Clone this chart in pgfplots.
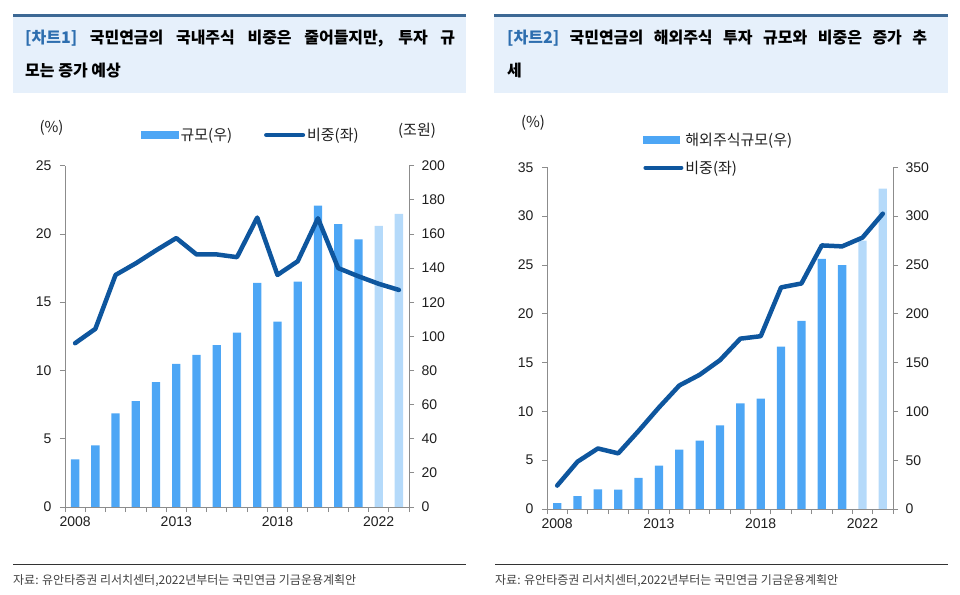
\documentclass[border=0pt]{standalone}
\usepackage{pgfplots}
\pgfplotsset{compat=1.18}
\usepackage{pgfplotstable}
\usepackage{fontspec}
\setmainfont{Noto Sans CJK KR}
\newfontfamily\kr{Noto Sans CJK KR}
\newfontfamily\arial{Liberation Sans}
\definecolor{barblue}{RGB}{77,166,245}
\definecolor{barlight}{RGB}{181,218,250}
\definecolor{linecol}{RGB}{14,86,158}
\definecolor{boxfill}{RGB}{230,240,251}
\definecolor{rulecol}{RGB}{60,104,148}
\definecolor{tagcol}{RGB}{45,110,175}
\definecolor{axgray}{RGB}{140,140,140}
\definecolor{txt}{RGB}{30,30,30}

% chart 1: domestic equity
\pgfplotstableread{
x size share
0 27.9 12.0
1 36.1 13.05
2 54.8 17.0
3 62.0 17.85
4 73.2 18.8
5 83.9 19.7
6 89.2 18.5
7 94.8 18.5
8 102.2 18.3
9 131.3 21.2
10 108.7 17.0
11 132.1 18.0
12 176.6 21.15
13 165.7 17.5
14 156.9 16.9
15 164.7 16.35
16 171.7 15.9
}\domtab
% chart 2: overseas equity
\pgfplotstableread{
x size share
0 6.1 2.4
1 13.3 4.85
2 20.1 6.2
3 19.8 5.7
4 31.8 8.0
5 44.4 10.4
6 60.8 12.65
7 70.0 13.75
8 85.7 15.25
9 108.2 17.45
10 113.0 17.7
11 166.3 22.7
12 192.6 23.1
13 256.1 27.0
14 249.9 26.9
15 275.0 27.8
16 328.1 30.25
}\fortab

\pgfplotsset{
  base/.style={
    scale only axis,
    xmin=-0.5, xmax=16.5,
    axis line style={axgray, line width=1pt},
    tick style={axgray, line width=0.8pt},
    tick align=outside,
    major tick length=5pt,
    ticklabel style={font=\arial\fontsize{14}{16}\selectfont, text=txt},
    /pgf/number format/assume math mode=true,
    clip=false,
  },
  baraxis/.style={base, axis x line=none, axis y line*=right, ymin=0,
    yticklabel style={xshift=4pt}},
  lineaxis/.style={base, axis x line*=bottom, axis y line*=left, ymin=0,
    yticklabel style={xshift=-5pt},
    xtick={-0.5,0.5,...,16.5}, xticklabels={},
    extra x ticks={0,5,10,15}, extra x tick labels={2008,2013,2018,2022},
    extra x tick style={major tick length=0pt, xticklabel style={yshift=-6pt}},
    legend cell align=left,
    legend style={draw=none, fill=none, inner sep=0pt,
      font=\kr\fontsize{15}{17}\selectfont, text=txt},
  },
  barstyle/.style={ybar, bar width=8.3pt, bar shift=0pt, draw=none},
}

\begin{document}
\begin{tikzpicture}
\path[use as bounding box] (0,0) rectangle (960pt,-594pt);

% ---------- header boxes ----------
\fill[boxfill] (13pt,-16pt) rectangle (466pt,-93pt);
\draw[rulecol, line width=2.5pt] (13pt,-15.5pt) -- (466pt,-15.5pt);
\fill[boxfill] (494pt,-16pt) rectangle (948pt,-93pt);
\draw[rulecol, line width=2.5pt] (494pt,-15.5pt) -- (948pt,-15.5pt);

\node[anchor=base west, inner sep=0pt] at (25pt,-44pt)
  {\makebox[430pt][s]{\kr\bfseries\fontsize{16}{18}\selectfont \textcolor{tagcol}{[차트1]} 국민연금의 국내주식 비중은 줄어들지만, 투자 규}};
\node[anchor=base west, inner sep=0pt] at (25pt,-76pt)
  {\kr\bfseries\fontsize{16}{18}\selectfont 모는 증가 예상};
\node[anchor=base west, inner sep=0pt] at (507pt,-44pt)
  {\makebox[420pt][s]{\kr\bfseries\fontsize{16}{18}\selectfont \textcolor{tagcol}{[차트2]} 국민연금의 해외주식 투자 규모와 비중은 증가 추}};
\node[anchor=base west, inner sep=0pt] at (507pt,-76pt)
  {\kr\bfseries\fontsize{16}{18}\selectfont 세};

% ---------- footers ----------
\draw[black!80, line width=0.8pt] (13pt,-564.3pt) -- (466pt,-564.3pt);
\draw[black!80, line width=0.8pt] (495pt,-564.3pt) -- (948pt,-564.3pt);
\node[anchor=base west, inner sep=0pt, text=black!75] at (13pt,-584pt)
  {\kr\fontsize{12}{14}\selectfont 자료: 유안타증권 리서치센터,2022년부터는 국민연금 기금운용계획안};
\node[anchor=base west, inner sep=0pt, text=black!75] at (495pt,-584pt)
  {\kr\fontsize{12}{14}\selectfont 자료: 유안타증권 리서치센터,2022년부터는 국민연금 기금운용계획안};

% ---------- unit labels ----------
\node[text=txt] at (51.5pt,-128.3pt) {\kr\fontsize{15}{17}\selectfont (\%)};
\node[text=txt] at (417pt,-130.7pt) {\kr\fontsize{15}{17}\selectfont (조원)};
\node[text=txt] at (533pt,-122.7pt) {\kr\fontsize{15}{17}\selectfont (\%)};

% ---------- chart 1 ----------
\begin{axis}[baraxis, at={(65pt,-507pt)}, anchor=south west,
  width=344pt, height=341.3pt, ymax=200, ytick={0,20,...,200}]
  \addplot[barstyle, fill=barblue, skip coords between index={15}{17}] table[x=x, y=size] {\domtab};
  \addplot[barstyle, fill=barlight, skip coords between index={0}{15}] table[x=x, y=size] {\domtab};
\end{axis}
\begin{axis}[lineaxis, at={(65pt,-507pt)}, anchor=south west,
  width=344pt, height=341.3pt, ymax=25, ytick={0,5,...,25},
  legend columns=2,
  legend style={at={(0.2209,1.09)}, anchor=west,
    /tikz/every even column/.append style={column sep=30pt}}]
  \addlegendimage{legend image code/.code={\fill[barblue] (0pt,-3.5pt) rectangle (37pt,3.5pt);}}
  \addlegendentry{규모(우)}
  \addplot[linecol, line width=4.5pt, line join=round, line cap=round,
    legend image code/.code={\draw[linecol, line width=4pt, line cap=round] (2pt,0pt) -- (39pt,0pt);}]
    table[x=x, y=share] {\domtab};
  \addlegendentry{비중(좌)}
\end{axis}

% ---------- chart 2 ----------
\begin{axis}[baraxis, at={(547pt,-509pt)}, anchor=south west,
  width=346pt, height=341.7pt, ymax=350, ytick={0,50,...,350}]
  \addplot[barstyle, fill=barblue, skip coords between index={15}{17}] table[x=x, y=size] {\fortab};
  \addplot[barstyle, fill=barlight, skip coords between index={0}{15}] table[x=x, y=size] {\fortab};
\end{axis}
\begin{axis}[lineaxis, at={(547pt,-509pt)}, anchor=south west,
  width=346pt, height=341.7pt, ymax=35, ytick={0,5,...,35},
  legend columns=1,
  legend style={at={(0.2775,1.0394)}, anchor=west, row sep=10pt}]
  \addlegendimage{legend image code/.code={\fill[barblue] (0pt,-3.5pt) rectangle (36pt,3.5pt);}}
  \addlegendentry{해외주식규모(우)}
  \addplot[linecol, line width=4.5pt, line join=round, line cap=round,
    legend image code/.code={\draw[linecol, line width=4pt, line cap=round] (2pt,0pt) -- (38pt,0pt);}]
    table[x=x, y=share] {\fortab};
  \addlegendentry{비중(좌)}
\end{axis}
\end{tikzpicture}
\end{document}
